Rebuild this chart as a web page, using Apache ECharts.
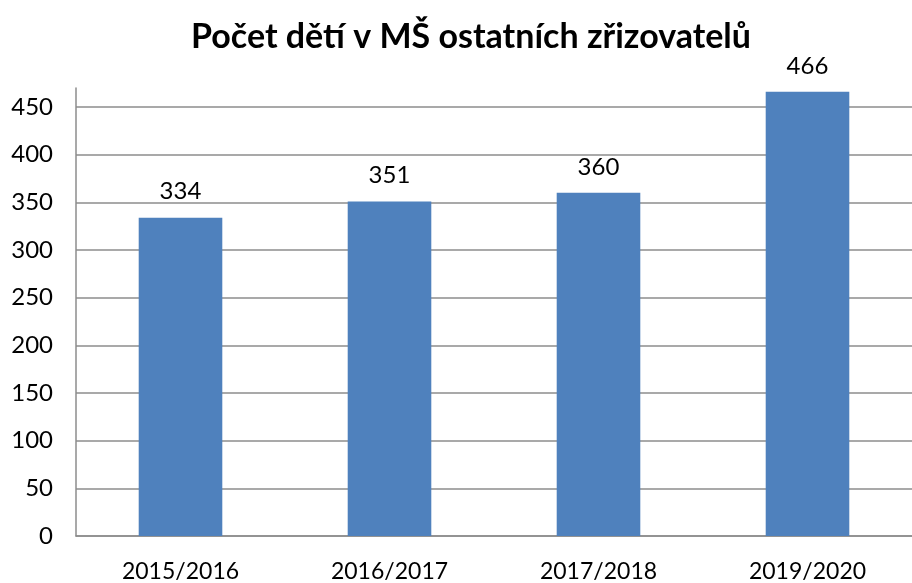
<!DOCTYPE html>
<html>
<head>
<meta charset="utf-8">
<script src="https://cdn.jsdelivr.net/npm/echarts@6/dist/echarts.min.js"></script>
<style>
  html, body { margin: 0; padding: 0; background: #ffffff; }
  #chart { width: 912px; height: 583px; }
</style>
</head>
<body>
<div id="chart"></div>
<script>
// School years and number of children in kindergartens of other founders
const categories = ['2015/2016', '2016/2017', '2017/2018', '2019/2020'];
const children = [334, 351, 360, 466];
const titleText = 'Počet dětí v MŠ ostatních zřizovatelů';
const yMin = 0;
const yMax = 470;
const yStep = 50;

const FONT = 'Lato, "Open Sans", sans-serif';
const GRID_GREY = '#8c8c8c';

// one gridline colour per tick; the top edge (axis max) gets no line
const tickCount = Math.floor((yMax - yMin) / yStep) + 1;
const splitColors = [];
for (let i = 0; i < tickCount; i++) splitColors.push(GRID_GREY);
splitColors.push('rgba(0,0,0,0)');

const chart = echarts.init(document.getElementById('chart'), null, { renderer: 'canvas' });
chart.setOption({
  animation: false,
  backgroundColor: '#ffffff',
  graphic: [{
    type: 'text',
    x: 471,
    y: 37,
    style: {
      text: titleText,
      x: 0, y: 0,
      font: 'bold 34px ' + FONT,
      fill: '#000000',
      textAlign: 'center',
      textVerticalAlign: 'middle'
    }
  }],
  grid: { left: 76, right: -13, top: 88, bottom: 44, containLabel: false },
  xAxis: {
    type: 'category',
    data: categories,
    axisLine: { show: true, lineStyle: { color: GRID_GREY, width: 1.5 } },
    axisTick: { show: false },
    axisLabel: { color: '#000000', fontFamily: FONT, fontSize: 23, margin: 24 },
    splitLine: { show: false }
  },
  yAxis: {
    type: 'value',
    min: yMin,
    max: yMax,
    interval: yStep,
    axisLine: { show: true, lineStyle: { color: GRID_GREY, width: 1.5 } },
    axisTick: { show: false },
    axisLabel: {
      color: '#000000', fontFamily: FONT, fontSize: 24, margin: 23,
      showMaxLabel: false
    },
    splitLine: { show: true, lineStyle: { color: splitColors, width: 1.5 } }
  },
  series: [{
    type: 'bar',
    data: children,
    barWidth: '40%',
    itemStyle: { color: '#4F81BD' },
    label: {
      show: true,
      position: 'top',
      distance: 14,
      color: '#000000',
      fontFamily: FONT,
      fontSize: 24
    }
  }]
});
</script>
</body>
</html>
